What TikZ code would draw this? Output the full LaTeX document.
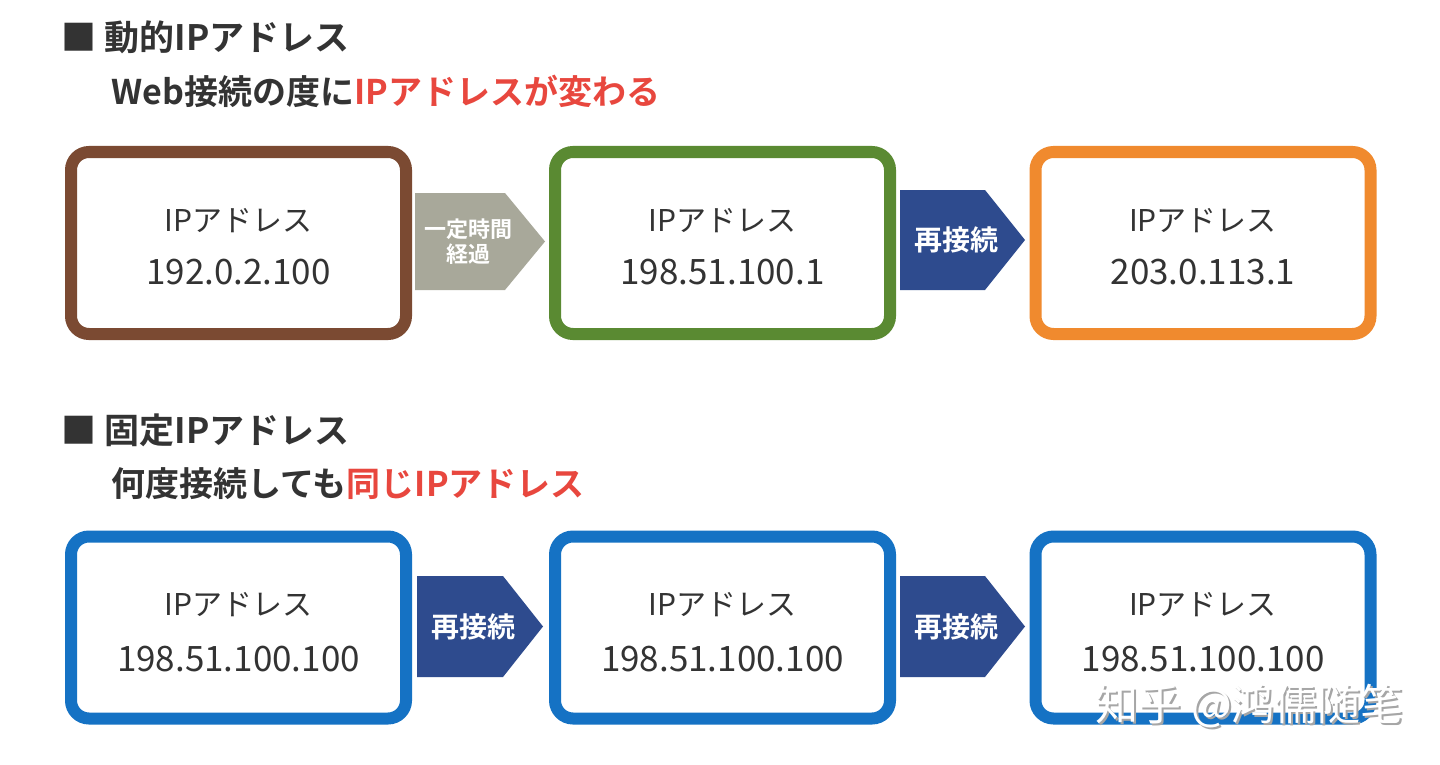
\documentclass[tikz,border=0pt]{standalone}
\usepackage{fontspec}
\setmainfont{Noto Sans CJK JP}
\newfontfamily\jpb{Noto Sans CJK JP Bold}
\definecolor{cbrown}{HTML}{7B4A32}
\definecolor{cgreen}{HTML}{5A8A32}
\definecolor{corange}{HTML}{F08A2E}
\definecolor{cblue}{HTML}{1572C4}
\definecolor{carrow}{HTML}{2E4B8E}
\definecolor{cgrey}{HTML}{A8A89A}
\definecolor{cred}{HTML}{E8473E}
\definecolor{ctext}{HTML}{333333}
\tikzset{
 ipbox/.style={draw=#1, line width=12pt, rounded corners=18pt, fill=white, minimum width=335pt, minimum height=182pt, inner sep=0pt},
 lbl/.style={text=ctext, font=\fontsize{35}{40}\selectfont, align=center},
 lblip/.style={text=ctext, font=\fontsize{30}{34}\selectfont, align=center},
 atext/.style={text=white, font=\jpb\fontsize{28}{32}\selectfont, align=center},
 head/.style={text=ctext, font=\jpb\fontsize{34}{40}\selectfont, anchor=west},
}
\begin{document}
\begin{tikzpicture}[x=1pt,y=-1pt]
\useasboundingbox (0,0) rectangle (1440,765);
\fill[white] (0,0) rectangle (1440,765);
% headings
\node[head,font=\jpb\fontsize{35}{40}\selectfont] (h1) at (58,37) {■ 動的IPアドレス};
\node[head] (s1) at (108,91) {Web接続の度に\textcolor{cred}{IPアドレスが変わる}};
\node[head,font=\jpb\fontsize{35}{40}\selectfont] (h2) at (58,430) {■ 固定IPアドレス};
\node[head] (s2) at (108,484) {何度接続しても\textcolor{cred}{同じIPアドレス}};
% row1 boxes
\node[ipbox=cbrown] (a1) at (238.5,243) {};
\node[ipbox=cgreen] (a2) at (722.5,243) {};
\node[ipbox=corange] (a3) at (1203,243) {};
\node[lblip] at (238.5,221) {IPアドレス}; \node[lbl] at (238.5,272) {192.0.2.100};
\node[lblip] at (722.5,221) {IPアドレス}; \node[lbl] at (722.5,272) {198.51.100.1};
\node[lblip] at (1203,221) {IPアドレス}; \node[lbl] at (1203,272) {203.0.113.1};
% row1 arrows
\fill[cgrey] (415,193) -- (505,193) -- (545,241.5) -- (505,290) -- (415,290) -- cycle;
\node[atext, font=\jpb\fontsize{22}{25}\selectfont] (t1) at (468,242) {一定時間\\経過};
\fill[carrow] (900,190) -- (985,190) -- (1025,240) -- (985,290) -- (900,290) -- cycle;
\node[atext] (t2) at (956,240) {再接続};
% row2 boxes
\node[ipbox=cblue] (b1) at (238.5,627.5) {};
\node[ipbox=cblue] (b2) at (722.5,627.5) {};
\node[ipbox=cblue] (b3) at (1203,627.5) {};
\node[lblip] at (238.5,605) {IPアドレス}; \node[lbl] at (238.5,659) {198.51.100.100};
\node[lblip] at (722.5,605) {IPアドレス}; \node[lbl] at (722.5,659) {198.51.100.100};
\node[lblip] at (1203,605) {IPアドレス}; \node[lbl] at (1203,659) {198.51.100.100};
\fill[carrow] (417,576) -- (503,576) -- (543,626.5) -- (503,677) -- (417,677) -- cycle;
\node[atext] (t3) at (473,627) {再接続};
\fill[carrow] (900,576) -- (985,576) -- (1025,626.5) -- (985,677) -- (900,677) -- cycle;
\node[atext] (t4) at (956,627) {再接続};
% watermark
\node[text=gray!70, font=\fontsize{43}{48}\selectfont, anchor=west] at (1094,708) {知乎 @鸿儒随笔};
\node[text=white, font=\fontsize{43}{48}\selectfont, anchor=west] (wm) at (1092,706) {知乎 @鸿儒随笔};
\end{tikzpicture}
\end{document}
